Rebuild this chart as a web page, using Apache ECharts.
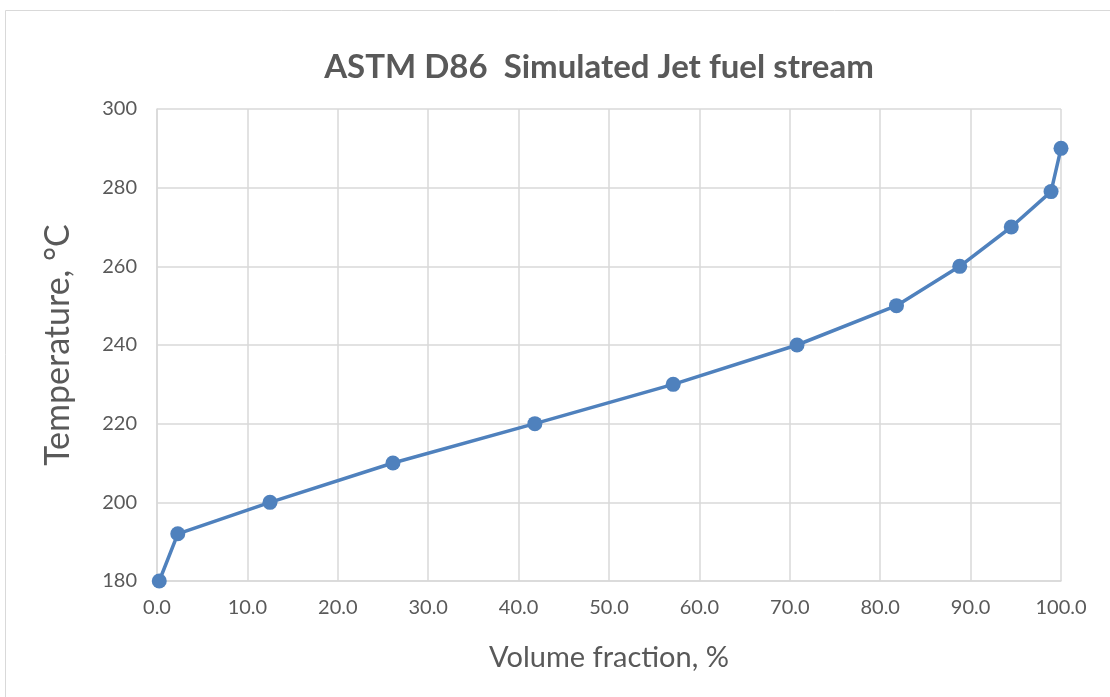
<!DOCTYPE html>
<html><head><meta charset="utf-8">
<script src="https://cdn.jsdelivr.net/npm/echarts@6/dist/echarts.min.js"></script>
<style>html,body{margin:0;padding:0;background:#fff}#c{width:1110px;height:697px}</style>
</head><body><div id="c"></div>
<script>
const volumeFraction = [0.25, 2.3, 12.5, 26.1, 41.8, 57.1, 70.8, 81.8, 88.8, 94.5, 98.9, 100.0];
const temperature = [180, 192, 200, 210, 220, 230, 240, 250, 260, 270, 279, 290];
const titleText = 'ASTM D86  Simulated Jet fuel stream';
const xName = 'Volume fraction, %';
const yName = 'Temperature, \u00B0C';

const chart = echarts.init(document.getElementById('c'), null, {renderer: 'canvas'});
const font = 'Lato, "Open Sans", sans-serif';
chart.setOption({
  animation: false,
  backgroundColor: '#fff',
  graphic: [{type: 'rect', shape: {x: 5.5, y: 10.5, width: 1110, height: 700}, style: {fill: 'none', stroke: '#d9d9d9', lineWidth: 1}, silent: true}],
  title: {text: titleText, left: 594, top: 46, textAlign: 'center',
    textStyle: {fontFamily: font, fontSize: 33, fontWeight: 'bold', color: '#595959'}},
  grid: {left: 157, right: 49, top: 109, bottom: 116, containLabel: false},
  xAxis: {type: 'value', min: 0, max: 100, interval: 10,
    name: xName, nameLocation: 'middle', nameGap: 62,
    nameTextStyle: {fontFamily: font, fontSize: 29, color: '#595959'},
    axisLine: {show: true, lineStyle: {color: '#d9d9d9', width: 1.5}},
    axisTick: {show: false},
    axisLabel: {fontFamily: font, fontSize: 20, color: '#595959', margin: 17, formatter: v => v.toFixed(1)},
    splitLine: {show: true, lineStyle: {color: '#d9d9d9', width: 1.5}}},
  yAxis: {type: 'value', min: 180, max: 300, interval: 20,
    name: yName, nameLocation: 'middle', nameGap: 82, nameRotate: 90,
    nameTextStyle: {fontFamily: font, fontSize: 34, color: '#595959'},
    axisLine: {show: true, lineStyle: {color: '#d9d9d9', width: 1.5}},
    axisTick: {show: false},
    axisLabel: {fontFamily: font, fontSize: 20, color: '#595959', margin: 20},
    splitLine: {show: true, lineStyle: {color: '#d9d9d9', width: 1.5}}},
  series: [{type: 'line', data: volumeFraction.map((x, i) => [x, temperature[i]]),
    symbol: 'circle', symbolSize: 15, clip: false,
    lineStyle: {color: '#4f81bd', width: 3.5},
    itemStyle: {color: '#4f81bd'}}]
});
</script></body></html>
